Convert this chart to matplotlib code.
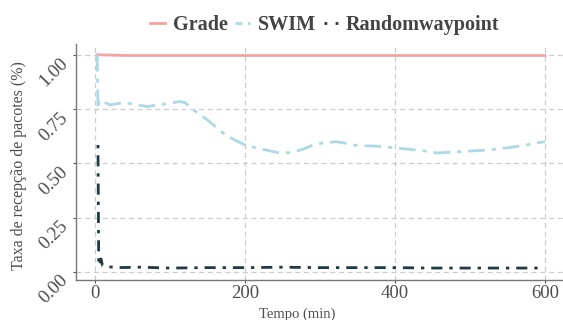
import matplotlib
matplotlib.use("Agg")
import matplotlib.pyplot as plt
from matplotlib.lines import Line2D

plt.rcParams['font.family'] = ['Liberation Serif', 'DejaVu Serif']

series_names = ["Grade", "SWIM", "Randomwaypoint"]

grade_x = [3, 10, 20, 40, 100, 200, 300, 400, 500, 600]
grade_y = [1.0, 1.0, 0.999, 0.997, 0.997, 0.997, 0.997, 0.997, 0.997, 0.997]

swim_x = [3, 4, 5, 10, 20, 30, 40, 55, 70, 90, 113, 120, 131, 150, 171, 185, 200,
          216, 230, 247, 262, 277, 291, 305, 322, 335, 350, 370, 385, 400, 420,
          440, 456, 475, 495, 515, 535, 555, 575, 590, 600]
swim_y = [1.0, 0.75, 0.79, 0.785, 0.77, 0.775, 0.78, 0.77, 0.762, 0.772, 0.785, 0.78,
          0.747, 0.70, 0.64, 0.61, 0.585, 0.571, 0.56, 0.548, 0.55, 0.565, 0.585,
          0.595, 0.60, 0.592, 0.582, 0.58, 0.578, 0.571, 0.565, 0.557, 0.548,
          0.552, 0.556, 0.56, 0.566, 0.574, 0.585, 0.595, 0.60]

rw_x = [4, 4.5, 5, 6, 8, 10, 15, 30, 60, 100, 150, 200, 250, 300, 350, 400, 450,
        500, 550, 591]
rw_y = [0.585, 0.3, 0.03, 0.03, 0.06, 0.03, 0.025, 0.02, 0.022, 0.018, 0.02, 0.02,
        0.022, 0.02, 0.02, 0.02, 0.018, 0.018, 0.018, 0.018]

x_ticks = [0, 200, 400, 600]
y_ticks = [0.0, 0.25, 0.5, 0.75, 1.0]
y_ticklabels = ["0.00", "0.25", "0.50", "0.75", "1.00"]

colors = ["#F4A3A3", "#ADD8E6", "#1F3A44"]
styles = ["-", (0, (6, 2.5, 1.5, 2.5)), (0, (1.2, 2.5, 4, 2.5))]
legend_styles = ["-", (0, (2.5, 2.0)), (0, (1.0, 3.0))]

W, H = 563, 320
fig = plt.figure(figsize=(W / 100, H / 100), dpi=100)
ax = fig.add_axes([76 / W, 1 - 280 / H, 1 - 76 / W, (280 - 44) / H])

data = [(grade_x, grade_y), (swim_x, swim_y), (rw_x, rw_y)]
for (xs, ys), c, ls, name in zip(data, colors, styles, series_names):
    ax.plot(xs, ys, color=c, linestyle=ls, linewidth=2.0, label=name)

ax.set_xlim(-25.3, 624)
ax.set_ylim(-0.037, 1.05)
ax.set_xticks(x_ticks)
ax.set_yticks(y_ticks)
ax.set_yticklabels(y_ticklabels, rotation=45, va='top', ha='right')
ax.tick_params(axis='both', colors='#555555', labelcolor='#4d4d4d', labelsize=13.5,
               length=2, width=0.8, pad=1.5)
ax.grid(True, color='#cccccc', linestyle=(0, (4, 3)), linewidth=0.9)
ax.set_axisbelow(True)
for s in ['top', 'right']:
    ax.spines[s].set_visible(False)
for s in ['left', 'bottom']:
    ax.spines[s].set_color('#777777')
    ax.spines[s].set_linewidth(1.0)

ax.set_xlabel("Tempo (min)", fontsize=10.5, color='#4d4d4d')
ax.xaxis.set_label_coords((297 - 76) / (W - 76), -(314 - 280) / (280 - 44))
ax.xaxis.label.set_va('center')
ax.set_ylabel("Taxa de recepção de pacotes (%)", fontsize=11.5, color='#4d4d4d')
ax.yaxis.set_label_coords(-(76 - 19) / (W - 76), (280 - 166) / (280 - 44))
ax.yaxis.label.set_va('center')

handles = [Line2D([0], [0], color=c, linestyle=ls, linewidth=2.0)
           for c, ls in zip(colors, legend_styles)]
leg = fig.legend(handles, series_names, loc='center', bbox_to_anchor=(325 / W, 1 - 25 / H),
                 ncol=3, frameon=False, handlelength=0.7, handletextpad=0.4,
                 columnspacing=0.4, borderpad=0, prop={'weight': 'bold', 'size': 14.5})
for t in leg.get_texts():
    t.set_color('#444444')

fig.savefig("out.png", dpi=100)
